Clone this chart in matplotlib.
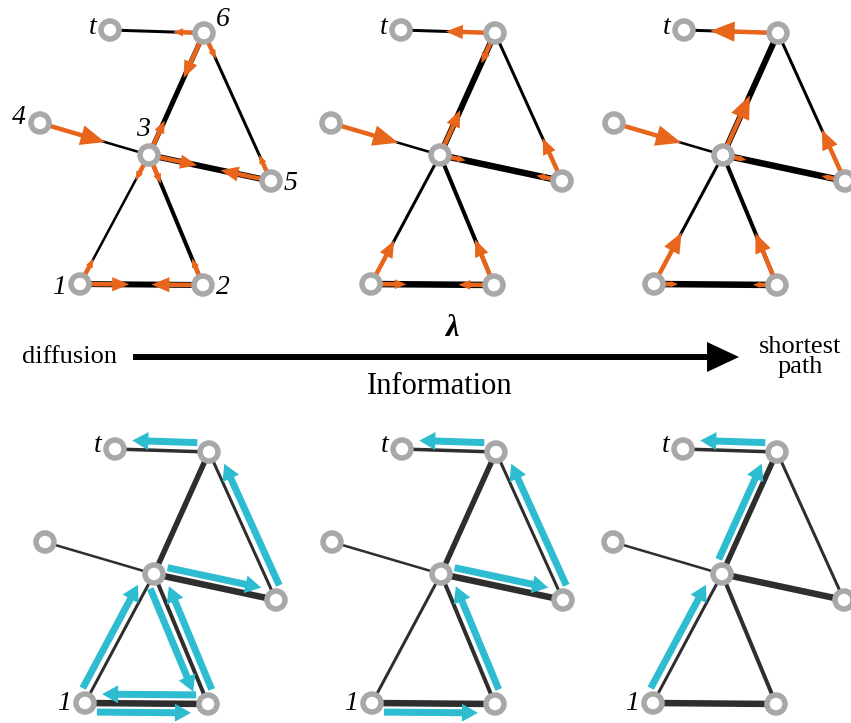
import numpy as np
import matplotlib.pyplot as plt
from matplotlib.patches import Circle, FancyArrow

# --- network: node names, layout (pixels) and edges ---
NODES = ["t", "6", "4", "3", "5", "1", "2"]
NODE_X = [110, 204, 40, 149, 271, 80, 203]
NODE_Y = [30, 33, 123, 155, 181, 284, 285]
EDGES = [("t", "6"), ("6", "3"), ("6", "5"), ("4", "3"),
         ("3", "5"), ("3", "1"), ("3", "2"), ("1", "2")]

# edge conductivities drawn as line width (px), one list per panel
WIDTHS_TOP = [
    [3.0, 5.0, 3.0, 2.5, 6.0, 2.5, 4.0, 6.0],
    [3.0, 6.0, 3.0, 2.5, 6.5, 3.0, 4.0, 6.5],
    [3.0, 6.0, 3.0, 2.5, 6.5, 3.0, 4.0, 6.5],
]
WIDTHS_BOTTOM = [3.5, 5.5, 3.0, 2.5, 6.5, 3.0, 4.0, 6.5]

# orange flows (top row): (source, target, relative flow)
FLOWS_TOP = [
    [("6", "t", 0.15), ("6", "3", 0.55), ("3", "6", 0.3), ("4", "3", 0.95),
     ("3", "5", 0.55), ("5", "3", 0.6), ("6", "5", 0.1), ("5", "6", 0.1),
     ("3", "1", 0.1), ("1", "3", 0.1), ("3", "2", 0.15), ("2", "3", 0.1),
     ("1", "2", 0.55), ("2", "1", 0.6)],
    [("6", "t", 0.55), ("6", "3", 0.2), ("3", "6", 0.55), ("4", "3", 1.0),
     ("3", "5", 0.05), ("5", "3", 0.05), ("5", "6", 0.5), ("1", "3", 0.55),
     ("2", "3", 0.55), ("1", "2", 0.25), ("2", "1", 0.25)],
    [("6", "t", 0.95), ("3", "6", 0.9), ("4", "3", 1.0), ("5", "6", 0.7),
     ("1", "3", 0.75), ("2", "3", 0.7), ("5", "3", 0.0), ("3", "5", 0.0),
     ("1", "2", 0.0), ("2", "1", 0.0)],
]

# cyan paths (bottom row): (source, target, side of the edge)
PATHS_BOTTOM = [
    [("6", "t", 1), ("5", "6", 1), ("3", "5", -1), ("1", "3", -1),
     ("3", "2", 1), ("2", "3", 1), ("2", "1", 1), ("1", "2", 1)],
    [("6", "t", 1), ("5", "6", 1), ("3", "5", -1), ("2", "3", 1), ("1", "2", 1)],
    [("6", "t", 1), ("3", "6", -1), ("1", "3", -1)],
]

TOP_OFFSETS = [(0, 0), (291, 0), (574, 0)]
BOTTOM_OFFSETS = [(5, 419), (292, 419), (573, 419)]

ORANGE = "#E8661C"
CYAN = "#2DBCD0"
RING = "#A8A8A8"
PX = 0.72  # points per pixel at 100 dpi

fig = plt.figure(figsize=(8.51, 7.23), dpi=100)
ax = fig.add_axes([0, 0, 1, 1])
ax.set_xlim(0, 851)
ax.set_ylim(723, 0)
ax.axis("off")

serif = ["Liberation Serif", "DejaVu Serif"]


def pos(name, off):
    i = NODES.index(name)
    return np.array([NODE_X[i] + off[0], NODE_Y[i] + off[1]], dtype=float)


def draw_graph(off, widths, color):
    for (a, b), w in zip(EDGES, widths):
        p, q = pos(a, off), pos(b, off)
        ax.plot([p[0], q[0]], [p[1], q[1]], color=color, lw=w * PX,
                solid_capstyle="butt", zorder=1)
    for name in NODES:
        ax.add_patch(Circle(pos(name, off), 9, fc="white", ec=RING,
                            lw=5.5 * PX, zorder=4))


def draw_flows(off, flows):
    for a, b, f in flows:
        p, q = pos(a, off), pos(b, off)
        d = (q - p) / np.linalg.norm(q - p)
        length = 24 + 46 * f
        hw = 6 + 15 * f
        ax.add_patch(FancyArrow(p[0], p[1], d[0] * length, d[1] * length,
                                width=4.5, head_width=hw, head_length=hw * 1.2,
                                length_includes_head=True, color=ORANGE,
                                lw=0, zorder=2))


def draw_paths(off, paths):
    for a, b, side in paths:
        p, q = pos(a, off), pos(b, off)
        d = (q - p) / np.linalg.norm(q - p)
        n = np.array([-d[1], d[0]]) * side * 9
        start = p + d * 12 + n
        end = q - d * 17 + n
        ax.add_patch(FancyArrow(start[0], start[1], *(end - start),
                                width=7, head_width=18, head_length=16,
                                length_includes_head=True, color=CYAN,
                                lw=0, zorder=2))


for k in range(3):
    draw_graph(TOP_OFFSETS[k], WIDTHS_TOP[k], "black")
    draw_flows(TOP_OFFSETS[k], FLOWS_TOP[k])
    draw_graph(BOTTOM_OFFSETS[k], WIDTHS_BOTTOM, "#2E2E2E")
    draw_paths(BOTTOM_OFFSETS[k], PATHS_BOTTOM[k])


def label(name, off, dx, dy, text=None, ha="center"):
    p = pos(name, off)
    ax.text(p[0] + dx, p[1] + dy, text or name, family=serif, style="italic",
            fontsize=20, ha=ha, va="center", zorder=5)


off = TOP_OFFSETS[0]
label("6", off, 12, -14, ha="left")
label("4", off, -14, -6, ha="right")
label("3", off, -6, -25)
label("5", off, 13, 3, ha="left")
label("1", off, -14, 3, ha="right")
label("2", off, 13, 3, ha="left")
for off in TOP_OFFSETS + BOTTOM_OFFSETS:
    label("t", off, -13, -3, ha="right")
for off in BOTTOM_OFFSETS:
    label("1", off, -14, 1, ha="right")

# information axis between the two rows
ax.add_patch(FancyArrow(133, 357, 606, 0, width=6, head_width=30,
                        head_length=32, length_includes_head=True,
                        color="black", lw=0))
ax.text(22, 357, "diffusion", family=serif, fontsize=19, ha="left", va="center")
ax.text(800, 357, "shortest\npath", family=serif, fontsize=19, ha="center",
        va="center", linespacing=0.85)
ax.text(452, 329, "λ", family=serif, weight="bold", style="italic",
        fontsize=22, ha="center", va="center")
ax.text(440, 386, "Information", family=serif, fontsize=22, ha="center",
        va="center")

fig.savefig("out.png", dpi=100)
